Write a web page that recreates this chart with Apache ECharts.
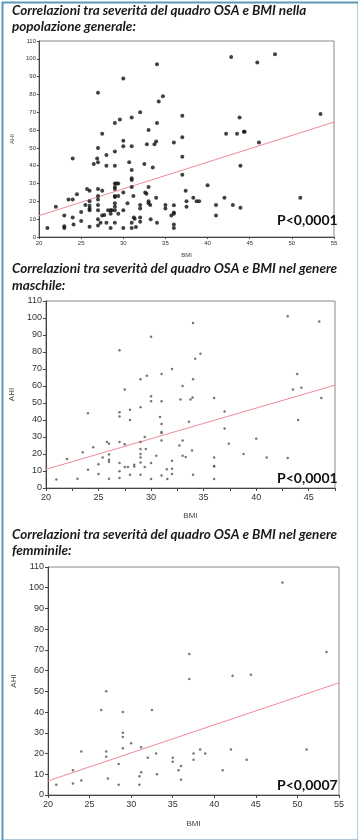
<!DOCTYPE html>
<html><head><meta charset="utf-8">
<script src="https://cdn.jsdelivr.net/npm/echarts@6/dist/echarts.min.js"></script>
<style>html,body{margin:0;padding:0;background:#fff}#c{width:358px;height:840px}</style>
</head><body><div id="c"></div>
<script>
// ---- data ----
const titles = [
  ["Correlazioni tra severità del quadro OSA e BMI nella", "popolazione generale:"],
  ["Correlazioni tra severità del quadro OSA e BMI nel genere", "maschile:"],
  ["Correlazioni tra severità del quadro OSA e BMI nel genere", "femminile:"]
];
const pLabels = ["P<0,0001", "P<0,0001", "P<0,0007"];
const xName = "BMI";
const yName = "AHI";

const totalPoints = [
 [21,5],[22,17],[23,5],[23,6],[23,12],[23.5,21],[24,44],[24,21],[24,11],[24.1,7],[24.5,24],[25,14],[25,9],[25.5,18],[25.7,27],
 [26,26],[26,20],[26,17.6],[26,16],[26,15],[26,5.8],[26.5,41],[26.9,44],[27,50],[27,42],[27,27],[27,23],[27,21],[27,18],[27,15],
 [27,10],[27,6.4],[27.3,8],[27.5,26],[27.5,58],[27.5,12],[27.75,12.3],[28,46],[28,40],[28,8],[28.2,15],[28.5,15],[28.5,13],[28.5,5],
 [28.65,15],[29,64],[29,48],[29,40],[29,30],[29,28],[29,27],[29,23],[29,22.5],[29,19],[29,17],[29,15],[29,8],[29.2,30],[29.4,30],
 [29.4,23],[29.4,13],[29.6,66],[30,54],[30,51],[30,25],[30,15],[30,5],[30.5,19],[30.7,42],[31,51],[31,37.6],[31,33],[31,32],[31,28],
 [31,8],[31,5],[31.2,23],[31.25,11],[31.35,10.3],[31.5,5.6],[32,18],[32,16],[32,11],[32,8.6],[32.5,41],[32.6,25],[32.75,24.3],
 [32.8,52],[33,60],[33,28],[33,20],[33,19],[33.25,10],[33.5,39],[33.7,52],[33.9,53.6],[33.9,22],[34,8],[33.2,18],[35,18],[35,16],
 [35.7,12],[36,53],[36,17.8],[36,13.8],[36,13],[36,7],[36,5],[37,56],[37,45],[37,35],[37.4,26],[37.5,20],[37.5,17],[38.3,22],
 [38.7,20],[39,20],[40,29],[41,18],[41,12],[42,22],[42.2,58],[43,18],[43.5,58],[43.9,40],[43.9,16.4],[44.3,59],[44.4,59],[46.1,53],
 [51,22],[27,81],[30,89],[34,97],[34.7,79],[34.2,76],[32,70],[31,67],[34,64],[37,68],[42.8,101],[45.9,98],[48,102.5],[43.8,67],[53.4,69]
];
const malePoints = [
 [27,81],[30,89],[34,97],[34.7,79],[34.2,76],[32,70],[31,67],[29.6,66],[29,64],[34,64],[43,101],[46,98],[43.9,67],
 [21,5],[22,17],[23,5.5],[23.5,21],[24,44],[24,10.8],[24.5,24],[25,14],[25,8.2],[25.4,18],[25.8,27],[26,26],[26,19.7],[26,16.6],
 [26,15.4],[26,5.5],[27,44.6],[27,42],[27,27],[27,14.7],[27,9.8],[27,5.9],[27.5,58],[27.5,25.8],[27.5,12.3],[27.8,12.3],[28,46],
 [28,40],[28,7.8],[28.4,13.7],[28.4,12.7],[29,47.5],[29,27],[29,23],[29,20],[29,18],[29,15],[29,7.8],[29.4,30],[29.5,23],
 [29.4,12.3],[30,54],[30,51],[30,14.7],[30,5.3],[30.5,19],[30.85,41.8],[31,51],[31,37.7],[31,33],[31,32.3],[31,28],[31,7.4],
 [31.5,11],[31.55,5.3],[32,16],[32,11.3],[32,8.2],[32.7,25],[32.8,52],[33,60],[33,28],[33,19],[33.3,18.2],[33.6,39],[33.75,52],
 [33.95,53.2],[33.9,22],[34,7.8],[36,53],[36,18],[36,13],[36,12.7],[36,5.3],[37,45],[37,35],[37.4,26],[38.8,20],[40,29],[41,18],
 [43,17.6],[43.5,58],[44,40],[44.3,59],[46.2,53]
];
const femalePoints = [
 [48.2,102.5],[37,68],[53.5,69],[21,5],[23,5.5],[23,12],[24,21],[24,7],[26.4,41],[27,50],[27,21],[27,18.5],[27.2,8],[28.5,15],
 [28.5,5],[29,40],[29,30],[29,28],[29,22.6],[30,25],[31,9],[31,5],[31.2,23],[31.2,11],[32,18],[32.5,41],[33,20],[33.1,10],[35,18],
 [35,16],[35.7,12],[36,14],[36,7.4],[37,56],[37.5,20],[37.5,17],[38.3,22],[38.9,20],[41,12],[42,22],[42.2,57.5],[43.9,17],[44.4,58],[51.1,22]
];
// regression line end points [BMI, AHI]
const totalFit = [[20,12],[55,64.5]];
const maleFit = [[20,11],[47.5,60.5]];
const femaleFit = [[20,6.8],[55,54.1]];

const xRanges = [[20,55,5],[20,47.5,2.5],[20,55,5]];
const yRange = [0,110,10];

// ---- layout ----
const grids = [
  {left:39, top:41, width:295, height:196},
  {left:44, top:301, width:291, height:187},
  {left:48, top:567, width:291, height:228}
];
const small = [true,false,false];
const yNameGap = [20,26,28];
const xNameGap = [15,24,25];
const titleY = [[12,28],[270,287],[536,552]];
const pY = [221,479,786];

const chart = echarts.init(document.getElementById('c'), null, {renderer:'canvas'});
const FONT = 'Liberation Sans, Arial, sans-serif';
const xAxes = [], yAxes = [], series = [], graphics = [];
const pts = [totalPoints, malePoints, femalePoints];
const fits = [totalFit, maleFit, femaleFit];
for (let i=0;i<3;i++){
  const fs = small[i] ? 6 : 9;
  xAxes.push({type:'value', gridIndex:i, min:xRanges[i][0], max:xRanges[i][1], interval:xRanges[i][2],
    name:xName, nameLocation:'middle', nameGap:xNameGap[i], nameTextStyle:{fontSize:small[i]?6:8,color:'#444',fontFamily:FONT},
    axisLine:{lineStyle:{color:'#444',width:1}}, axisTick:{length:small[i]?2:3,lineStyle:{color:'#444'}},
    axisLabel:{fontSize:fs,color:'#333',fontFamily:FONT,margin:small[i]?3:5,
      formatter:v=> (v%5===0? String(v):'')},
    splitLine:{show:false}});
  yAxes.push({type:'value', gridIndex:i, min:yRange[0], max:yRange[1], interval:yRange[2],
    name:yName, nameLocation:'middle', nameGap:yNameGap[i], nameRotate:90, nameTextStyle:{fontSize:small[i]?6:8,color:'#444',fontFamily:FONT},
    axisLine:{lineStyle:{color:'#444',width:1}}, axisTick:{length:small[i]?2:3,lineStyle:{color:'#444'}},
    axisLabel:{fontSize:fs,color:'#333',fontFamily:FONT,margin:small[i]?3:4},
    splitLine:{show:false}});
  series.push({type:'scatter', xAxisIndex:i, yAxisIndex:i, data:pts[i], symbolSize: small[i]?4:2.5,
    itemStyle:{color: small[i]?'#111':'#555'}, silent:true, z:3});
  series.push({type:'line', xAxisIndex:i, yAxisIndex:i, data:fits[i], symbol:'none',
    lineStyle:{color:'#f08a98',width:1}, silent:true, z:2});
  graphics.push({type:'text', left:12, top:titleY[i][0]-8, style:{text:titles[i][0], font:'italic bold 13.5px Lato, sans-serif', fill:'#1a1a1a'}});
  graphics.push({type:'text', left:12, top:titleY[i][1]-8, style:{text:titles[i][1], font:'italic bold 13.5px Lato, sans-serif', fill:'#1a1a1a'}});
  graphics.push({type:'text', left:277, top:pY[i]-8, style:{text:pLabels[i], font:'bold 14px Lato, sans-serif', fill:'#111'}});
}
graphics.push({type:'rect', left:0, top:0, shape:{x:1,y:1,width:356,height:838}, style:{fill:'none', stroke:'#5d9ab7', lineWidth:2}, z:100});

chart.setOption({
  animation:false,
  grid: grids.map(g=>Object.assign({show:true, borderColor:'#888', borderWidth:1, backgroundColor:'#fff'}, g)),
  xAxis:xAxes, yAxis:yAxes, series:series, graphic:graphics
});
</script></body></html>
